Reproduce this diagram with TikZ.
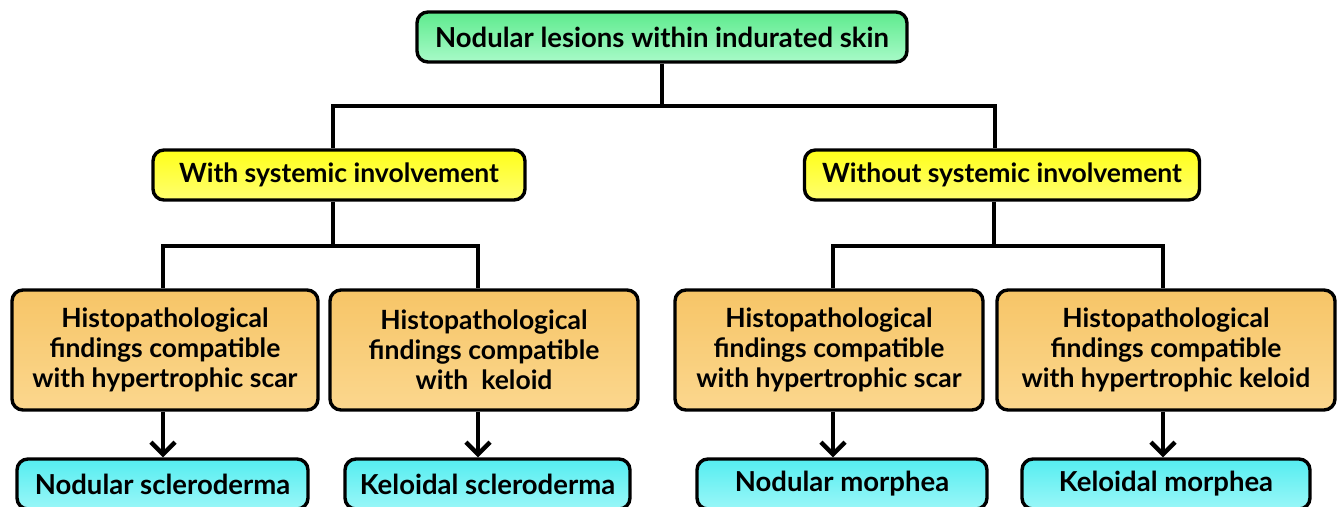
\documentclass[tikz,border=0pt]{standalone}
\usepackage{fontspec}
\setmainfont{Lato}
\usetikzlibrary{arrows.meta,calc}
\definecolor{gtop}{HTML}{5EEB8E}
\definecolor{gbot}{HTML}{A8FAC8}
\definecolor{ytop}{HTML}{FFFF1A}
\definecolor{ybot}{HTML}{FFFF70}
\definecolor{otop}{HTML}{F7C567}
\definecolor{obot}{HTML}{FBD78E}
\definecolor{ctop}{HTML}{55EDF0}
\definecolor{cbot}{HTML}{9AF7F8}
\tikzset{
  box/.style={draw=black, line width=3.4pt, rounded corners=11pt, align=center,
    font=\bfseries\fontsize{26.5}{30}\selectfont, inner sep=0pt},
  topbox/.style={box, top color=gtop, bottom color=gbot, minimum width=490pt, minimum height=50pt, font=\bfseries\fontsize{27.5}{30}\selectfont},
  ybox/.style={box, top color=ytop, bottom color=ybot, minimum height=50pt},
  obox/.style={box, top color=otop, bottom color=obot, minimum height=120pt},
  cbox/.style={box, top color=ctop, bottom color=cbot, minimum height=50pt, font=\bfseries\fontsize{27.5}{30}\selectfont},
  conn/.style={line width=4.4pt, draw=black},
  arr/.style={conn, -{Straight Barb[length=12pt,width=24pt,line width=4.4pt]}}
}
\begin{document}
\begin{tikzpicture}[x=1pt,y=-1pt]
\useasboundingbox (0,0) rectangle (1338,506);
\node[topbox] (top) at (662,37) {Nodular lesions within indurated skin};
\node[ybox, minimum width=372pt] (yl) at (339,175) {With systemic involvement};
\node[ybox, minimum width=395pt] (yr) at (1002,175) {Without systemic involvement};
\node[obox, minimum width=306pt] (o1) at (165,350) {Histopathological\\findings compatible\\with hypertrophic scar};
\node[obox, minimum width=308pt] (o2) at (484,350) {Histopathological\\findings compatible\\with\ \ keloid};
\node[obox, minimum width=308pt] (o3) at (829,350) {Histopathological\\findings compatible\\with hypertrophic scar};
\node[obox, minimum width=338pt] (o4) at (1166,350) {Histopathological\\findings compatible\\with hypertrophic keloid};
\node[cbox, minimum width=291pt] (c1) at (162.5,484) {Nodular scleroderma};
\node[cbox, minimum width=285pt] (c2) at (487.5,484) {Keloidal scleroderma};
\node[cbox, minimum width=290pt] (c3) at (842,484) {Nodular morphea};
\node[cbox, minimum width=288pt] (c4) at (1166,484) {Keloidal morphea};
\coordinate (j0) at (662,106);
\coordinate (jl) at (333,246);
\coordinate (jr) at (994,246);
\draw[conn] (top.south) -- (j0);
\draw[conn] (j0) -| ([xshift=-6pt]yl.north);
\draw[conn] (j0) -| ([xshift=-7pt]yr.north);
\draw[conn] ([xshift=-6pt]yl.south) -- (jl);
\draw[conn] (jl) -| ([xshift=-2pt]o1.north);
\draw[conn] (jl) -| ([xshift=-6pt]o2.north);
\draw[conn] ([xshift=-8pt]yr.south) -- (jr);
\draw[conn] (jr) -| ([xshift=4pt]o3.north);
\draw[conn] (jr) -| ([xshift=-3pt]o4.north);
\draw[arr] ([xshift=-2pt]o1.south) -- ([xshift=-2pt]o1.south |- c1.north);
\draw[arr] ([xshift=-6pt]o2.south) -- ([xshift=-6pt]o2.south |- c2.north);
\draw[arr] ([xshift=4pt]o3.south) -- ([xshift=4pt]o3.south |- c3.north);
\draw[arr] ([xshift=-3pt]o4.south) -- ([xshift=-3pt]o4.south |- c4.north);
\end{tikzpicture}
\end{document}
